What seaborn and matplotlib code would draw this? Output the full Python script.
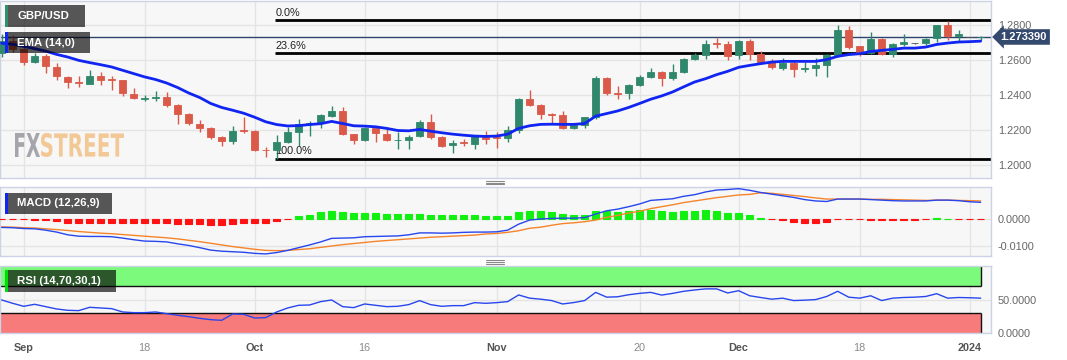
import numpy as np
import pandas as pd
import matplotlib
matplotlib.use("Agg")
import matplotlib.pyplot as plt
import matplotlib.transforms as mtransforms
import seaborn as sns
from matplotlib.patches import Rectangle, PathPatch
from matplotlib.lines import Line2D
from matplotlib.textpath import TextPath
from matplotlib.font_manager import FontProperties

# ---- data (GBP/USD daily, 30 Aug 2023 - 2 Jan 2024) ----
dates = pd.bdate_range("2023-08-30", "2024-01-02")

opens = [1.2640, 1.2712, 1.2667, 1.2592, 1.2627, 1.2562, 1.2505, 1.2476, 1.2467, 1.2509,
         1.2492, 1.2486, 1.2406, 1.2380, 1.2386, 1.2390, 1.2343, 1.2295, 1.2238, 1.2210,
         1.2158, 1.2135, 1.2200, 1.2196, 1.2088, 1.2084, 1.2133, 1.2190, 1.2234, 1.2240,
         1.2282, 1.2310, 1.2177, 1.2143, 1.2210, 1.2177, 1.2141, 1.2143, 1.2166, 1.2248,
         1.2158, 1.2113, 1.2133, 1.2120, 1.2162, 1.2160, 1.2155, 1.2200, 1.2376, 1.2343,
         1.2292, 1.2286, 1.2215, 1.2229, 1.2273, 1.2501, 1.2412, 1.2410, 1.2459, 1.2505,
         1.2535, 1.2497, 1.2533, 1.2608, 1.2633, 1.2697, 1.2691, 1.2629, 1.2710, 1.2634,
         1.2590, 1.2558, 1.2587, 1.2551, 1.2558, 1.2571, 1.2629, 1.2771, 1.2680, 1.2642,
         1.2724, 1.2638, 1.2691, 1.2699, 1.2698, 1.2730, 1.2800, 1.2737, 1.2733, 1.2731]
highs = [1.2750, 1.2745, 1.2700, 1.2642, 1.2635, 1.2585, 1.2510, 1.2509, 1.2547, 1.2531,
         1.2513, 1.2490, 1.2444, 1.2400, 1.2425, 1.2421, 1.2350, 1.2300, 1.2257, 1.2219,
         1.2166, 1.2223, 1.2273, 1.2200, 1.2101, 1.2171, 1.2219, 1.2261, 1.2250, 1.2295,
         1.2337, 1.2330, 1.2180, 1.2219, 1.2215, 1.2204, 1.2190, 1.2171, 1.2257, 1.2295,
         1.2165, 1.2143, 1.2152, 1.2170, 1.2196, 1.2190, 1.2223, 1.2387, 1.2429, 1.2350,
         1.2300, 1.2309, 1.2235, 1.2278, 1.2509, 1.2505, 1.2451, 1.2462, 1.2518, 1.2558,
         1.2540, 1.2577, 1.2615, 1.2642, 1.2718, 1.2730, 1.2710, 1.2718, 1.2724, 1.2653,
         1.2610, 1.2613, 1.2600, 1.2590, 1.2613, 1.2638, 1.2800, 1.2794, 1.2685, 1.2762,
         1.2730, 1.2699, 1.2749, 1.2702, 1.2730, 1.2805, 1.2827, 1.2775, 1.2735, 1.2742]
lows = [1.2620, 1.2650, 1.2575, 1.2585, 1.2528, 1.2486, 1.2444, 1.2448, 1.2462, 1.2457,
        1.2429, 1.2398, 1.2380, 1.2367, 1.2367, 1.2330, 1.2234, 1.2230, 1.2190, 1.2150,
        1.2110, 1.2120, 1.2185, 1.2080, 1.2048, 1.2037, 1.2125, 1.2109, 1.2166, 1.2210,
        1.2275, 1.2170, 1.2120, 1.2135, 1.2133, 1.2135, 1.2090, 1.2090, 1.2160, 1.2150,
        1.2105, 1.2070, 1.2109, 1.2090, 1.2120, 1.2095, 1.2133, 1.2185, 1.2340, 1.2261,
        1.2238, 1.2205, 1.2204, 1.2210, 1.2265, 1.2400, 1.2376, 1.2376, 1.2455, 1.2501,
        1.2451, 1.2490, 1.2528, 1.2600, 1.2610, 1.2673, 1.2604, 1.2610, 1.2604, 1.2581,
        1.2553, 1.2547, 1.2505, 1.2533, 1.2509, 1.2505, 1.2620, 1.2667, 1.2623, 1.2635,
        1.2630, 1.2619, 1.2680, 1.2696, 1.2690, 1.2705, 1.2718, 1.2705, 1.2731, 1.2718]
closes = [1.2712, 1.2667, 1.2592, 1.2627, 1.2566, 1.2509, 1.2474, 1.2470, 1.2509, 1.2490,
          1.2488, 1.2410, 1.2383, 1.2384, 1.2392, 1.2343, 1.2295, 1.2240, 1.2210, 1.2158,
          1.2135, 1.2196, 1.2194, 1.2086, 1.2084, 1.2133, 1.2190, 1.2234, 1.2242, 1.2286,
          1.2310, 1.2177, 1.2143, 1.2210, 1.2185, 1.2143, 1.2145, 1.2162, 1.2248, 1.2158,
          1.2109, 1.2128, 1.2124, 1.2166, 1.2152, 1.2155, 1.2200, 1.2380, 1.2343, 1.2291,
          1.2288, 1.2215, 1.2229, 1.2273, 1.2501, 1.2410, 1.2408, 1.2459, 1.2505, 1.2535,
          1.2497, 1.2533, 1.2610, 1.2629, 1.2695, 1.2693, 1.2627, 1.2710, 1.2634, 1.2590,
          1.2560, 1.2587, 1.2553, 1.2555, 1.2571, 1.2629, 1.2771, 1.2676, 1.2642, 1.2724,
          1.2638, 1.2691, 1.2705, 1.2699, 1.2724, 1.2800, 1.2737, 1.2749, 1.2733, 1.2734]
ema14 = [1.2698, 1.2692, 1.2680, 1.2667, 1.2653, 1.2634, 1.2619, 1.2600, 1.2587, 1.2575,
         1.2562, 1.2543, 1.2524, 1.2505, 1.2490, 1.2470, 1.2444, 1.2413, 1.2387, 1.2353,
         1.2330, 1.2314, 1.2297, 1.2274, 1.2248, 1.2232, 1.2224, 1.2226, 1.2232, 1.2237,
         1.2250, 1.2238, 1.2225, 1.2223, 1.2219, 1.2210, 1.2198, 1.2196, 1.2204, 1.2194,
         1.2185, 1.2177, 1.2171, 1.2166, 1.2164, 1.2166, 1.2177, 1.2210, 1.2225, 1.2233,
         1.2234, 1.2233, 1.2233, 1.2238, 1.2280, 1.2295, 1.2310, 1.2330, 1.2353, 1.2377,
         1.2396, 1.2419, 1.2448, 1.2476, 1.2495, 1.2518, 1.2537, 1.2560, 1.2571, 1.2581,
         1.2590, 1.2594, 1.2594, 1.2594, 1.2594, 1.2604, 1.2623, 1.2633, 1.2638, 1.2651,
         1.2657, 1.2663, 1.2670, 1.2670, 1.2676, 1.2691, 1.2699, 1.2705, 1.2707, 1.2710]

macd_line = [-0.0032, -0.0033, -0.0036, -0.0037, -0.0042, -0.0049, -0.0059, -0.0064, -0.0065, -0.0065,
             -0.0066, -0.0071, -0.0077, -0.0082, -0.0083, -0.0085, -0.0092, -0.0098, -0.0106, -0.0115,
             -0.0119, -0.0121, -0.0123, -0.0127, -0.0129, -0.0124, -0.0116, -0.0106, -0.0096, -0.0085,
             -0.0072, -0.0071, -0.0070, -0.0066, -0.0065, -0.0064, -0.0063, -0.0059, -0.0052, -0.0052,
             -0.0053, -0.0052, -0.0050, -0.0049, -0.0049, -0.0048, -0.0042, -0.0020, -0.0005, -0.0001,
             0.0001, 0.0002, 0.0002, 0.0004, 0.0017, 0.0029, 0.0035, 0.0044, 0.0054, 0.0067,
             0.0070, 0.0073, 0.0082, 0.0088, 0.0098, 0.0105, 0.0107, 0.0110, 0.0104, 0.0096,
             0.0090, 0.0084, 0.0078, 0.0070, 0.0065, 0.0063, 0.0072, 0.0072, 0.0072, 0.0070,
             0.0068, 0.0066, 0.0065, 0.0065, 0.0065, 0.0068, 0.0068, 0.0066, 0.0062, 0.0060]
macd_signal = [-0.0030, -0.0031, -0.0033, -0.0034, -0.0037, -0.0040, -0.0043, -0.0047, -0.0050, -0.0053,
               -0.0055, -0.0058, -0.0061, -0.0064, -0.0067, -0.0070, -0.0074, -0.0079, -0.0084, -0.0090,
               -0.0096, -0.0102, -0.0107, -0.0112, -0.0116, -0.0117, -0.0116, -0.0113, -0.0110, -0.0105,
               -0.0100, -0.0095, -0.0091, -0.0087, -0.0083, -0.0080, -0.0077, -0.0074, -0.0071, -0.0068,
               -0.0066, -0.0064, -0.0062, -0.0060, -0.0056, -0.0054, -0.0050, -0.0044, -0.0035, -0.0031,
               -0.0024, -0.0018, -0.0015, -0.0011, -0.0005, 0.0005, 0.0012, 0.0021, 0.0027, 0.0037,
               0.0044, 0.0051, 0.0059, 0.0065, 0.0071, 0.0077, 0.0082, 0.0087, 0.0089, 0.0095,
               0.0093, 0.0089, 0.0085, 0.0081, 0.0076, 0.0072, 0.0072, 0.0072, 0.0072, 0.0071,
               0.0071, 0.0070, 0.0069, 0.0068, 0.0067, 0.0068, 0.0068, 0.0067, 0.0066, 0.0065]
macd_hist = [-0.0002, -0.0002, -0.0002, -0.0003, -0.0004, -0.0010, -0.0015, -0.0015, -0.0015, -0.0015,
             -0.0015, -0.0015, -0.0015, -0.0015, -0.0015, -0.0015, -0.0018, -0.0018, -0.0021, -0.0024,
             -0.0022, -0.0018, -0.0015, -0.0014, -0.0014, -0.0009, -0.0001, 0.0009, 0.0015, 0.0025,
             0.0030, 0.0025, 0.0021, 0.0020, 0.0020, 0.0018, 0.0016, 0.0016, 0.0018, 0.0015,
             0.0012, 0.0012, 0.0012, 0.0013, 0.0009, 0.0009, 0.0011, 0.0025, 0.0030, 0.0030,
             0.0026, 0.0017, 0.0012, 0.0012, 0.0027, 0.0030, 0.0026, 0.0030, 0.0031, 0.0033,
             0.0027, 0.0025, 0.0028, 0.0028, 0.0031, 0.0028, 0.0021, 0.0021, 0.0014, 0.0004,
             -0.0002, -0.0004, -0.0011, -0.0016, -0.0016, -0.0011, -0.0002, -0.0001, -0.0002, -0.0004,
             -0.0003, -0.0004, -0.0003, -0.0003, -0.0002, 0.0002, 0.0000, -0.0001, -0.0002, -0.0002]

rsi14 = [49.5, 44.5, 40.0, 43.0, 39.5, 36.0, 34.0, 33.5, 38.5, 37.5,
         36.5, 31.5, 30.5, 30.5, 31.5, 29.0, 26.5, 24.5, 22.0, 20.0,
         19.0, 28.5, 28.0, 22.5, 23.0, 31.5, 37.5, 41.5, 42.0, 47.0,
         49.5, 39.5, 38.0, 43.5, 41.5, 39.5, 40.0, 42.5, 48.5, 42.5,
         40.0, 41.0, 41.0, 45.5, 44.5, 45.5, 47.0, 57.0, 52.2, 50.7,
         48.6, 43.5, 45.6, 48.6, 60.9, 53.7, 54.3, 57.3, 59.4, 60.9,
         56.8, 59.4, 62.5, 64.5, 66.1, 66.1, 60.0, 63.4, 55.8, 53.2,
         50.7, 52.2, 48.6, 49.2, 50.1, 54.7, 62.5, 53.7, 52.2, 55.8,
         48.6, 52.2, 53.2, 53.7, 54.7, 58.9, 52.2, 53.2, 52.8, 52.2]
rsi_upper, rsi_lower = 70, 30

last_price = 1.273390
fib_names = ["0.0%", "23.6%", "100.0%"]
fib_levels = [1.2830, 1.2643, 1.2037]
fib_anchor = "2023-10-04"

tick_dates = ["2023-09-01", "2023-09-18", "2023-10-02", "2023-10-16", "2023-11-01",
              "2023-11-20", "2023-12-01", "2023-12-18", "2024-01-01"]
tick_labels = ["Sep", "18", "Oct", "16", "Nov", "20", "Dec", "18", "2024"]
tick_bold = [True, False, True, False, True, False, True, False, True]

price_ticks = [1.20, 1.22, 1.24, 1.26, 1.28]
macd_ticks = [-0.01, 0.0]
rsi_ticks = [0, 50]

# ---- style ----
GREEN = "#2f886b"
RED = "#db5948"
FLAT = "#555555"
PANEL_BG = "#f7f7f7"
GRID = "#e4e4e4"
BORDER = "#cdd3e6"
LABEL = "#666666"

sns.set_theme(style="white")
plt.rcParams["font.family"] = ["Liberation Sans", "DejaVu Sans"]
plt.rcParams["axes.unicode_minus"] = False

W, H = 1067, 360
fig = plt.figure(figsize=(W / 100, H / 100), dpi=100)
fig.patch.set_facecolor("white")


def px_axes(x0, y0, x1, y1):
    return fig.add_axes([x0 / W, 1 - y1 / H, (x1 - x0) / W, (y1 - y0) / H])


ax = px_axes(0, 0.5, 991, 178)
ax_macd = px_axes(0, 187, 991, 256)
ax_rsi = px_axes(0, 266, 991, 333)

df = pd.DataFrame({"date": dates, "open": opens, "high": highs, "low": lows,
                   "close": closes, "ema": ema14, "macd": macd_line,
                   "signal": macd_signal, "histo": macd_hist, "rsi": rsi14})
df["x"] = np.arange(len(df))
tick_idx = [int(df.index[df["date"] == pd.Timestamp(d)][0]) for d in tick_dates]
fib_x = int(df.index[df["date"] == pd.Timestamp(fib_anchor)][0])
x_lo, x_hi = -0.15, 89.94
last_x = df["x"].iloc[-1]

for a in (ax, ax_macd, ax_rsi):
    a.set_facecolor(PANEL_BG)
    a.set_axisbelow(True)
    a.set_xlim(x_lo, x_hi)
    a.set_xticks(tick_idx)
    a.grid(True, color=GRID, lw=1)
    for s in a.spines.values():
        s.set_color(BORDER)
        s.set_linewidth(1)
    a.yaxis.tick_right()
    a.tick_params(axis="both", length=0, labelsize=7.8, labelcolor=LABEL, pad=5)

# ---- price panel ----
o, c = df["open"], df["close"]
col = np.where(c > o, GREEN, np.where(c < o, RED, FLAT))
ax.vlines(df["x"], df["low"], df["high"], colors=col, lw=1, zorder=3)
ax.bar(df["x"], (c - o).abs(), bottom=np.minimum(o, c),
       width=0.62, color=col, edgecolor=col, linewidth=0.6, zorder=4)
sns.lineplot(data=df, x="x", y="ema", ax=ax, color="#1024f2", linewidth=2, zorder=5)
ax.axhline(last_price, color="#2c4470", lw=1, zorder=2)

for name, lvl in zip(fib_names, fib_levels):
    ax.hlines(lvl, fib_x - 0.15, x_hi, color="black", lw=2, zorder=2)
    ax.annotate(name, xy=(fib_x - 0.1, lvl), xytext=(0, 1.5), textcoords="offset points",
                ha="left", va="bottom", fontsize=7.8, color="#222222")

ax.set_ylim(1.19257, 1.29429)
ax.set_yticks(price_ticks)
ax.set_yticklabels([f"{v:.4f}" for v in price_ticks])
ax.set_xticklabels([])
ax.set_xlabel("")
ax.set_ylabel("")

ax.annotate(f"{last_price:.6f}", xy=(1, last_price), xycoords=("axes fraction", "data"),
            xytext=(7, 0), textcoords="offset points", ha="left", va="center",
            color="white", fontsize=8, fontweight="bold", annotation_clip=False,
            bbox=dict(boxstyle="larrow,pad=0.25", fc="#34496e", ec="none"))

# watermark
fp = FontProperties(family="DejaVu Sans", weight="bold")
for txt, color, (x0, x1) in [("FX", "#9c9ca4", (15, 40)), ("STREET", "#f2c48c", (41, 124))]:
    tp = TextPath((0, 0), txt, size=1, prop=fp)
    ext = tp.get_extents()
    sx = (x1 - x0) / ext.width
    sy = 24 / ext.height
    tr = (mtransforms.Affine2D().translate(-ext.x0, -ext.y0).scale(sx, sy)
          .translate(x0, H - 157).scale(1 / 100) + fig.dpi_scale_trans)
    ax.add_patch(PathPatch(tp, transform=tr, fc=color, ec="none", alpha=0.9, zorder=1))

# ---- MACD panel ----
hcol = np.where(df["histo"] >= 0, "#12f012", "#ff1212")
ax_macd.bar(df["x"], df["histo"], width=0.6, color=hcol, edgecolor=hcol,
            linewidth=0.8, zorder=3)
sns.lineplot(data=df, x="x", y="signal", ax=ax_macd, color="#f5842a", linewidth=1, zorder=4)
sns.lineplot(data=df, x="x", y="macd", ax=ax_macd, color="#2846ee", linewidth=1, zorder=5)
ax_macd.set_ylim(-0.01366, 0.01161)
ax_macd.set_yticks(macd_ticks)
ax_macd.set_yticklabels([f"{v:.4f}" for v in macd_ticks])
ax_macd.set_xticklabels([])
ax_macd.set_xlabel("")
ax_macd.set_ylabel("")

# ---- RSI panel ----
band_x = [x_lo, last_x]
ax_rsi.fill_between(band_x, rsi_upper, 100.4, color="#7cfa7c", lw=0, zorder=1)
ax_rsi.fill_between(band_x, 0, rsi_lower, color="#f87b7b", lw=0, zorder=1)
ax_rsi.hlines([rsi_upper, rsi_lower], x_lo, last_x, color="#111111", lw=1, zorder=2)
ax_rsi.vlines(last_x, rsi_upper, 100.4, color="#111111", lw=1, zorder=2)
ax_rsi.vlines(last_x, 0, rsi_lower, color="#111111", lw=1, zorder=2)
sns.lineplot(data=df, x="x", y="rsi", ax=ax_rsi, color="#2846ee", linewidth=1, zorder=4)
ax_rsi.set_ylim(0, 100.4)
ax_rsi.set_yticks(rsi_ticks)
ax_rsi.set_yticklabels([f"{v:.4f}" for v in rsi_ticks])
ax_rsi.set_xticklabels(tick_labels)
ax_rsi.tick_params(axis="x", pad=7)
for lab, bold in zip(ax_rsi.get_xticklabels(), tick_bold):
    lab.set_fontweight("bold" if bold else "normal")
    lab.set_color("#555555" if bold else "#8a8a8a")
ax_rsi.set_xlabel("")
ax_rsi.set_ylabel("")


# ---- overlay label boxes ----
def label_box(x0, y0, x1, y1, text, bar_color):
    fig.add_artist(Rectangle((x0 / W, 1 - y1 / H), (x1 - x0) / W, (y1 - y0) / H,
                             transform=fig.transFigure, fc="black", alpha=0.65, ec="none", zorder=10))
    fig.add_artist(Rectangle((x0 / W, 1 - y1 / H), 2.5 / W, (y1 - y0) / H,
                             transform=fig.transFigure, fc=bar_color, ec="none", zorder=11))
    fig.text((x0 + 12) / W, 1 - (y0 + y1) / 2 / H, text, color="white", fontsize=8.2,
             fontweight="bold", ha="left", va="center", zorder=12)


label_box(5, 5, 85, 27, "GBP/USD", "#2f8f6f")
label_box(5, 32, 90, 53, "EMA (14,0)", "#1024f2")
label_box(5, 193, 112, 214, "MACD (12,26,9)", "#1024f2")
label_box(5, 270, 116, 292, "RSI (14,70,30,1)", "#00e000")

# panel resize handles
for yc in (182.5, 261.5):
    for dy in (-2, 0, 2):
        fig.add_artist(Line2D([486 / W, 504 / W], [1 - (yc + dy) / H] * 2,
                              transform=fig.transFigure, color="#8a8a8a", lw=0.8))

fig.savefig("out.png", dpi=100, facecolor="white")
